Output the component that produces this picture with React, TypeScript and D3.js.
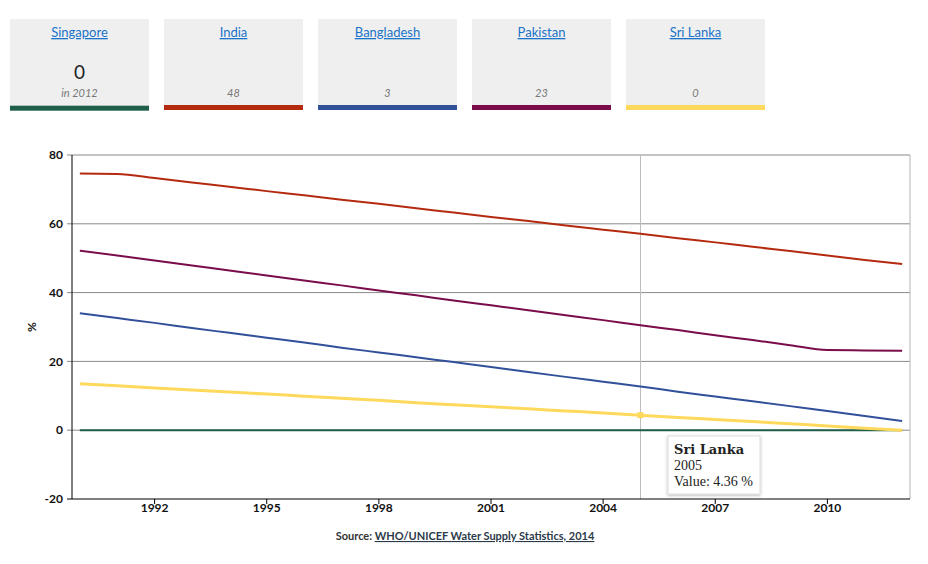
import React from "react";
import * as d3 from "d3";

const years = [1990,1991,1992,1993,1994,1995,1996,1997,1998,1999,2000,2001,2002,2003,2004,2005,2006,2007,2008,2009,2010,2011,2012];
const countries = ["Singapore","India","Bangladesh","Pakistan","Sri Lanka"];
const colors = ["#1f5e48","#b42a0f","#32509a","#7b0c4c","#fed95c"];
const singapore = [0,0,0,0,0,0,0,0,0,0,0,0,0,0,0,0,0,0,0,0,0,0,0];
const india = [74.6,74.5,73.3,72.0,70.8,69.5,68.3,67.0,65.8,64.5,63.3,62.0,60.8,59.5,58.3,57.1,55.8,54.6,53.3,52.1,50.8,49.5,48.3];
const bangladesh = [34.0,32.6,31.2,29.7,28.3,26.9,25.5,24.0,22.6,21.2,19.8,18.4,16.9,15.5,14.1,12.7,11.2,9.8,8.4,7.0,5.6,4.1,2.7];
const pakistan = [52.2,50.8,49.3,47.9,46.4,45.0,43.5,42.1,40.6,39.2,37.7,36.3,34.9,33.4,32.0,30.5,29.1,27.6,26.2,24.7,23.3,23.2,23.1];
const sriLanka = [13.5,12.9,12.3,11.7,11.1,10.5,9.9,9.3,8.7,8.0,7.4,6.8,6.2,5.6,5.0,4.36,3.7,3.1,2.5,1.9,1.2,0.6,0.0];
const cardValues = ["0","48","3","23","0"];
const yTicks = [-20,0,20,40,60,80];
const xTicks = [1992,1995,1998,2001,2004,2007,2010];
const hoverYear = 2005;

const series = [singapore, india, bangladesh, pakistan, sriLanka];

export default function App() {
  const left = 72, right = 910, top = 155, bottom = 499;
  const x = d3.scaleLinear().domain([1989.79, 2012.21]).range([left, right]);
  const y = d3.scaleLinear().domain([-20, 80]).range([bottom, top]);
  const line = d3.line<number>().x((_, i) => x(years[i])).y(d => y(d)).curve(d3.curveMonotoneX);
  const font = "Lato, 'Open Sans', sans-serif";
  const hi = years.indexOf(hoverYear);
  const drawOrder = [0, 4, 2, 3, 1];
  return (
    <svg width={928} height={564} style={{ position: "absolute", left: 0, top: 0, fontFamily: font }}>
      {countries.map((c, i) => {
        const cx = 10 + i * 154;
        return (
          <g key={c}>
            <rect x={cx} y={19} width={139} height={i === 0 ? 87 : 86} fill="#efefef" />
            <rect x={cx} y={i === 0 ? 105.7 : 105} width={139} height={5} fill={colors[i]} />
            <text x={cx + 69.5} y={37} textAnchor="middle" fontSize={13} fill="#1a73c8" style={{ textDecoration: "underline" }}>{c}</text>
            {i === 0 ? (
              <>
                <text x={cx + 69.5} y={79} textAnchor="middle" fontSize={19} fill="#222">{cardValues[i]}</text>
                <text x={cx + 69.5} y={96.5} textAnchor="middle" fontSize={11} fontStyle="italic" fill="#777">in 2012</text>
              </>
            ) : (
              <text x={cx + 69.5} y={96.5} textAnchor="middle" fontSize={11} fontStyle="italic" fill="#777">{cardValues[i]}</text>
            )}
          </g>
        );
      })}
      {yTicks.filter(t => t !== -20).map(t => (
        <line key={t} x1={left - 5} x2={right} y1={y(t)} y2={y(t)} stroke="#8a8a8a" strokeWidth={1} />
      ))}
      <line x1={right} x2={right} y1={top} y2={bottom} stroke="#b5b5b5" />
      <line x1={x(hoverYear)} x2={x(hoverYear)} y1={top} y2={bottom} stroke="#bdbdbd" />
      <line x1={left} x2={left} y1={top} y2={bottom} stroke="#000" />
      <line x1={left} x2={right} y1={bottom} y2={bottom} stroke="#000" />
      <line x1={left - 5} x2={left} y1={bottom} y2={bottom} stroke="#000" />
      {yTicks.map(t => (
        <text key={t} x={63} y={y(t)} dy="0.35em" textAnchor="end" fontSize={12} fontWeight="bold" fill="#111">{t}</text>
      ))}
      {xTicks.map(t => (
        <g key={t}>
          <line x1={x(t)} x2={x(t)} y1={bottom} y2={bottom + 5} stroke="#000" />
          <text x={x(t)} y={512} textAnchor="middle" fontSize={12} fontWeight="bold" fill="#111">{t}</text>
        </g>
      ))}
      <text transform={`translate(36,${(top + bottom) / 2}) rotate(-90)`} textAnchor="middle" fontSize={12} fontWeight="bold" fill="#111">%</text>
      {drawOrder.map(i => (
        <path key={i} d={line(series[i]) || ""} fill="none" stroke={colors[i]} strokeWidth={i === 4 ? 3 : 2} />
      ))}
      <rect x={x(hoverYear) - 3} y={y(sriLanka[hi]) - 3} width={6} height={6} fill={colors[4]} />
      <text x={465} y={540} textAnchor="middle" fontSize={11} fontWeight="bold" fill="#333">
        <tspan>Source: </tspan>
        <tspan fill="#2b3a4a" style={{ textDecoration: "underline" }}>WHO/UNICEF Water Supply Statistics, 2014</tspan>
      </text>
      <defs>
        <filter id="sh" x="-20%" y="-20%" width="140%" height="140%">
          <feDropShadow dx="0" dy="1" stdDeviation="1.5" floodColor="#000" floodOpacity="0.3" />
        </filter>
      </defs>
      <rect x={668} y={436} width={92} height={58} fill="#fff" stroke="#ddd" filter="url(#sh)" />
      <text x={674} y={454} fontFamily="'DejaVu Serif', 'Liberation Serif', serif" fontSize={13} fill="#222">
        <tspan fontWeight="bold" fontSize={13}>{countries[4]}</tspan>
      </text>
      <text x={674} y={470} fontFamily="'Liberation Serif', serif" fontSize={14} fill="#222">{hoverYear}</text>
      <text x={674} y={486} fontFamily="'Liberation Serif', serif" fontSize={14} fill="#222">Value: {sriLanka[hi]} %</text>
    </svg>
  );
}
